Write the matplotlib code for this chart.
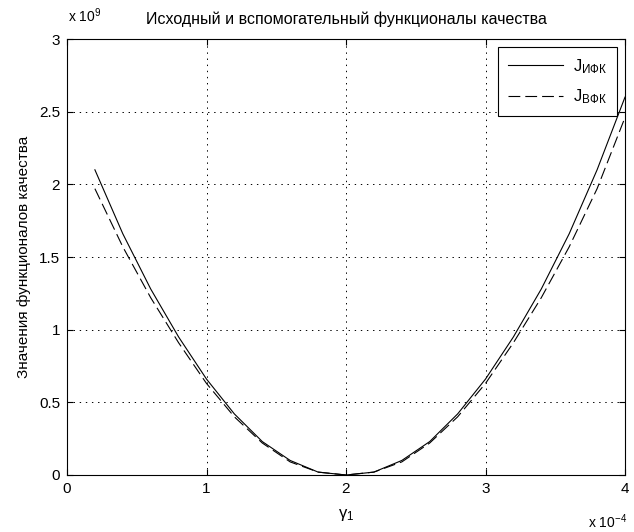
import numpy as np
import matplotlib
matplotlib.use('Agg')
import matplotlib.pyplot as plt

plt.rcParams['font.family'] = ['Liberation Sans', 'DejaVu Sans']
plt.rcParams['mathtext.fontset'] = 'custom'
plt.rcParams['mathtext.rm'] = 'Liberation Sans'
plt.rcParams['mathtext.it'] = 'Liberation Sans'
plt.rcParams['lines.scale_dashes'] = False

# gamma_1, in units of 1e-4
gamma1 = [0.2, 0.4, 0.6, 0.8, 1.0, 1.2, 1.4, 1.6, 1.8, 2.0,
          2.2, 2.4, 2.6, 2.8, 3.0, 3.2, 3.4, 3.6, 3.8, 4.0]
# quality functionals, in units of 1e9
j_ifk = [2.10, 1.66, 1.28, 0.95, 0.66, 0.42, 0.23, 0.10, 0.02, 0.00,
         0.02, 0.10, 0.23, 0.42, 0.66, 0.95, 1.28, 1.66, 2.10, 2.60]
j_vfk = [1.97, 1.57, 1.22, 0.91, 0.63, 0.40, 0.22, 0.09, 0.02, 0.00,
         0.02, 0.09, 0.22, 0.40, 0.63, 0.91, 1.22, 1.57, 1.97, 2.46]

x_ticks = [0, 1, 2, 3, 4]
y_ticks = [0, 0.5, 1, 1.5, 2, 2.5, 3]

fs = 11
fig = plt.figure(figsize=(6.34, 5.32), dpi=100)
ax = fig.add_axes([67 / 634, 1 - 475 / 532, 558 / 634, 436 / 532])

ax.plot(gamma1, j_ifk, color='k', lw=0.8, label=r'J$_{\mathrm{ИФК}}$')
ax.plot(gamma1, j_vfk, color='k', lw=0.8, dashes=(8.5, 3.6),
        label=r'J$_{\mathrm{ВФК}}$')

ax.set_xlim(0, 4)
ax.set_ylim(0, 3)
ax.set_xticks(x_ticks)
ax.set_yticks(y_ticks)
ax.set_xticklabels([str(v) for v in x_ticks])
ax.set_yticklabels(['0', '0.5', '1', '1.5', '2', '2.5', '3'])
ax.tick_params(direction='in', top=True, right=True, length=4, width=0.8,
               labelsize=fs, pad=5)
for s in ax.spines.values():
    s.set_linewidth(0.8)
ax.grid(True, color='k', lw=0.7, linestyle=(0, (1, 3.4)))

ax.set_title('Исходный и вспомогательный функционалы качества',
             fontsize=fs + 0.5, pad=11)
ax.set_ylabel('Значения функционалов качества', fontsize=fs, labelpad=6)
ax.set_xlabel(r'$\gamma_1$', fontsize=fs + 1, labelpad=8)

fig.text(68 / 634, 1 - 16 / 532, r'x 10$^{9}$', fontsize=fs - 1, va='center')
fig.text(588 / 634, 1 - 522 / 532, r'x 10$^{-4}$', fontsize=fs - 1, va='center')

leg = ax.legend(loc='upper right', bbox_to_anchor=(1 - 8 / 558, 1 - 8 / 436),
                fontsize=fs + 1, handlelength=3.3, handletextpad=0.6,
                fancybox=False, framealpha=1, edgecolor='k', borderpad=0.6,
                labelspacing=0.7, borderaxespad=0)
leg.get_frame().set_linewidth(0.8)

fig.savefig('out.png', dpi=100)
